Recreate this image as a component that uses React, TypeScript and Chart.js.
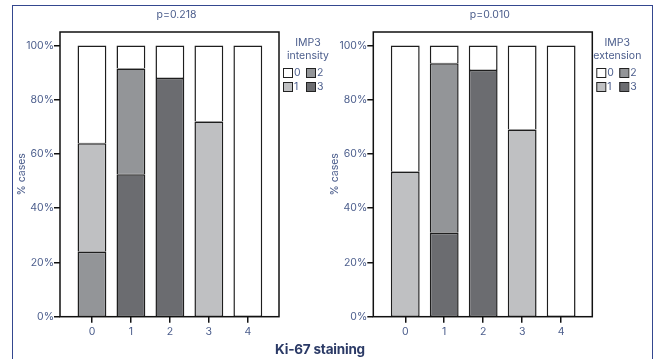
import React, { useEffect, useRef } from "react";
import { Chart, registerables } from "chart.js";

Chart.register(...registerables);

const categories = [0, 1, 2, 3, 4];
const yTicks = [0, 20, 40, 60, 80, 100];

// IMP3 intensity (left panel), % of cases per level
const intensity0 = [36, 8.5, 12, 28, 100];
const intensity1 = [40, 0, 0, 72, 0];
const intensity2 = [24, 39, 0, 0, 0];
const intensity3 = [0, 52.5, 88, 0, 0];

// IMP3 extension (right panel)
const extension0 = [46.5, 6.5, 9, 31, 100];
const extension1 = [53.5, 0, 0, 69, 0];
const extension2 = [0, 62.5, 0, 0, 0];
const extension3 = [0, 31, 91, 0, 0];

const levelLabels = ["0", "1", "2", "3"];
const levelColors = ["#ffffff", "#bfc0c2", "#939598", "#6b6c70"];

const FONT = "Inter, 'DejaVu Sans', sans-serif";
const TEXT = "#4b5d8c";

const panelPlugin = {
  id: "panel",
  afterDraw(chart: any, _args: any, opts: any) {
    const { ctx, chartArea: a } = chart;
    ctx.save();
    ctx.strokeStyle = "#111";
    ctx.lineWidth = 1.5;
    ctx.strokeRect(a.left, a.top, a.right - a.left, a.bottom - a.top);

    ctx.fillStyle = TEXT;
    ctx.font = `10.5px ${FONT}`;
    ctx.textAlign = "center";
    ctx.textBaseline = "middle";
    ctx.fillText(opts.title, (a.left + a.right) / 2 + 7, 15);

    // legend
    const lx = a.right + opts.legendCenter;
    ctx.fillText("IMP3", lx, 43);
    ctx.fillText(opts.legendTitle, lx, 56);
    const bx = a.right + 4;
    const pos = [
      [bx, 68],
      [bx, 82],
      [bx + 23, 68],
      [bx + 23, 82],
    ];
    ctx.textAlign = "left";
    for (let i = 0; i < 4; i++) {
      const [x, y] = pos[i];
      ctx.fillStyle = levelColors[i];
      ctx.fillRect(x, y, 9, 9);
      ctx.strokeStyle = "#222";
      ctx.lineWidth = 1;
      ctx.strokeRect(x + 0.5, y + 0.5, 9, 9);
      ctx.fillStyle = TEXT;
      ctx.fillText(levelLabels[i], x + 11, y + 5);
    }

    // y label
    ctx.translate(a.left - 38, (a.top + a.bottom) / 2);
    ctx.rotate(-Math.PI / 2);
    ctx.textAlign = "center";
    ctx.fillText("% cases", 0, 0);
    ctx.restore();
  },
};

function makeConfig(
  series: number[][],
  title: string,
  legendTitle: string,
  yWidth: number,
  padRight: number,
  legendCenter: number
): any {
  const order = [3, 2, 1, 0];
  return {
    type: "bar",
    data: {
      datasets: order.map((lvl) => ({
        label: levelLabels[lvl],
        data: categories.map((c, i) => ({ x: c, y: series[lvl][i] })),
        backgroundColor: levelColors[lvl],
        borderColor: "#1e1e1e",
        borderWidth: { top: 1.5, bottom: 0.5, left: 1.5, right: 1.5 },
        borderSkipped: false,
        categoryPercentage: 1,
        barPercentage: 0.74,
      })),
    },
    options: {
      responsive: false,
      animation: false,
      layout: { padding: { left: 0, right: padRight, top: 32, bottom: 0 } },
      plugins: {
        legend: { display: false },
        tooltip: { enabled: false },
        title: { display: false },
        panel: { title, legendTitle, legendCenter },
      },
      scales: {
        x: {
          type: "linear",
          min: -0.82,
          max: 4.8,
          offset: false,
          stacked: true,
          border: { display: false },
          grid: {
            display: true,
            drawOnChartArea: false,
            drawTicks: true,
            tickLength: 6,
            color: "#111",
            lineWidth: 1.5,
            offset: false,
          },
          ticks: {
            color: TEXT,
            font: { family: FONT, size: 10.5 },
            padding: 3,
            maxRotation: 0,
            callback: (v: number) => String(v),
          },
          afterBuildTicks: (s: any) => {
            s.ticks = categories.map((v) => ({ value: v }));
          },
          afterFit: (s: any) => {
            s.height = 42.3;
          },
        },
        y: {
          type: "linear",
          min: 0,
          max: 105,
          stacked: true,
          border: { display: false },
          grid: {
            display: true,
            drawOnChartArea: false,
            drawTicks: true,
            tickLength: 6,
            color: "#111",
            lineWidth: 1.5,
          },
          ticks: {
            color: TEXT,
            font: { family: FONT, size: 10.5 },
            padding: 0,
            callback: (v: number) => v + "%",
          },
          afterBuildTicks: (s: any) => {
            s.ticks = yTicks.map((v) => ({ value: v }));
          },
          afterFit: (s: any) => {
            s.width = yWidth;
          },
        },
      },
    },
    plugins: [panelPlugin],
  };
}

function Panel(props: {
  series: number[][];
  title: string;
  legendTitle: string;
  left: number;
  width: number;
  yWidth: number;
  padRight: number;
  legendCenter: number;
}) {
  const ref = useRef<HTMLCanvasElement>(null);
  useEffect(() => {
    if (!ref.current) return;
    const chart = new Chart(
      ref.current,
      makeConfig(props.series, props.title, props.legendTitle, props.yWidth, props.padRight, props.legendCenter)
    );
    return () => chart.destroy();
  }, []);
  return (
    <canvas
      ref={ref}
      width={props.width}
      height={359}
      style={{ position: "absolute", left: props.left, top: 0, width: props.width, height: 359 }}
    />
  );
}

export default function App() {
  return (
    <div style={{ position: "fixed", left: 0, top: 0, width: 657, height: 359, background: "#fff", overflow: "hidden" }}>
      <div
        style={{
          position: "absolute",
          left: 11.5,
          top: 4.5,
          width: 639.5,
          height: 380,
          borderTop: "1.5px solid #34478f",
          borderLeft: "1.5px solid #34478f",
          borderRight: "1.5px solid #34478f",
        }}
      />
      <Panel
        series={[intensity0, intensity1, intensity2, intensity3]}
        title="p=0.218"
        legendTitle="intensity"
        left={0}
        width={330}
        yWidth={60}
        padRight={51}
        legendCenter={29}
      />
      <Panel
        series={[extension0, extension1, extension2, extension3]}
        title="p=0.010"
        legendTitle="extension"
        left={330}
        width={327}
        yWidth={43.3}
        padRight={64.7}
        legendCenter={25}
      />
      <div
        style={{
          position: "absolute",
          left: 0,
          width: 640,
          top: 341,
          textAlign: "center",
          font: `bold 13.5px ${FONT}`,
          color: "#2b3a66",
          letterSpacing: "-0.2px",
        }}
      >
        Ki-67 staining
      </div>
    </div>
  );
}
